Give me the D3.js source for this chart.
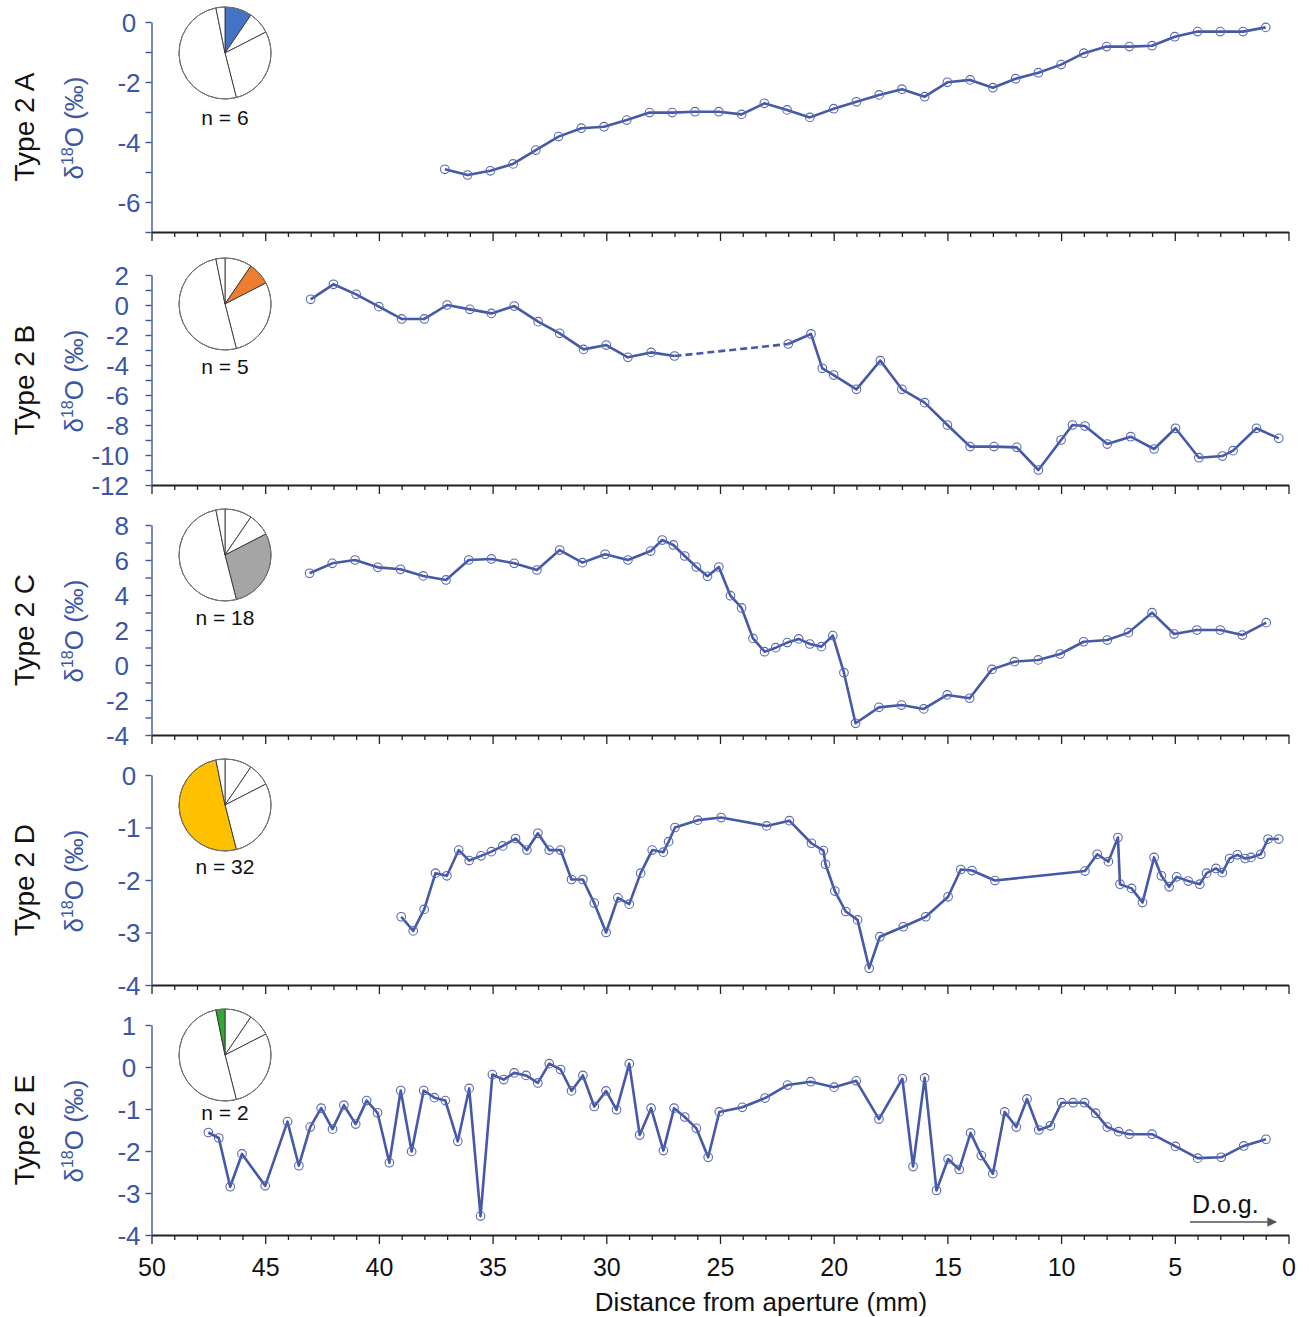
<!DOCTYPE html>
<html><head><meta charset="utf-8">
<script src="https://cdn.jsdelivr.net/npm/d3@7"></script>
<style>
body{margin:0;background:#fff}
svg{display:block}
text{font-family:"Liberation Sans",Arial,Helvetica,sans-serif}
</style>
</head><body>
<svg id="chart" width="1309" height="1317"></svg>
<script>
// ---------------- DATA ----------------
const typeLabels = ["Type 2 A", "Type 2 B", "Type 2 C", "Type 2 D", "Type 2 E"];
const sampleCounts = [6, 5, 18, 32, 2];
const pieColors = ["#4472c4", "#ed7d31", "#a5a5a5", "#ffc000", "#2fa836"];
const xTickLabels = [50, 45, 40, 35, 30, 25, 20, 15, 10, 5, 0];
const yDomains = [[-7, 0], [-12, 2], [-4, 8], [-4, 0], [-4, 1]];
const yLabelStep = [2, 2, 2, 1, 1];
const xTitle = "Distance from aperture (mm)";
const dogLabel = "D.o.g.";

const aX = [37.1, 36.1, 35.1, 34.1, 33.1, 32.1, 31.1, 30.1, 29.1, 28.1, 27.1, 26.1, 25.05, 24.05, 23.05, 22.05, 21.05, 20.0, 19.0, 18.0, 17.0, 16.0, 15.0, 14.0, 13.0, 12.0, 11.0, 10.0, 9.0, 8.0, 7.0, 6.0, 5.0, 4.0, 3.0, 2.0, 1.0];
const aY = [-4.91, -5.1, -4.96, -4.73, -4.27, -3.82, -3.54, -3.49, -3.27, -3.02, -3.02, -2.99, -2.99, -3.08, -2.71, -2.93, -3.18, -2.89, -2.66, -2.43, -2.24, -2.49, -2.01, -1.93, -2.19, -1.89, -1.69, -1.42, -1.04, -0.82, -0.82, -0.79, -0.49, -0.32, -0.32, -0.32, -0.18];

const bX = [43.0, 42.0, 41.0, 40.0, 39.0, 38.0, 37.0, 36.0, 35.05, 34.05, 33.0, 32.05, 31.0, 30.0, 29.05, 28.03, 27.0, 22.0, 21.0, 20.5, 20.0, 19.0, 17.95, 17.0, 16.0, 15.0, 14.0, 12.95, 11.95, 11.0, 10.0, 9.5, 8.95, 7.97, 6.94, 5.91, 4.97, 3.94, 2.91, 2.44, 1.41, 0.43];
const bY = [0.38, 1.38, 0.71, -0.11, -0.93, -0.93, 0.0, -0.29, -0.56, -0.07, -1.11, -1.89, -2.96, -2.67, -3.49, -3.16, -3.4, -2.6, -1.93, -4.22, -4.67, -5.62, -3.71, -5.62, -6.51, -8.0, -9.44, -9.44, -9.49, -11.0, -9.0, -8.0, -8.07, -9.27, -8.78, -9.6, -8.22, -10.18, -10.07, -9.71, -8.22, -8.89];
const bDashedFrom = 16; // dashed link between bX[16] and bX[17]

const cX = [43.05, 42.05, 41.05, 40.05, 39.05, 38.05, 37.05, 36.05, 35.05, 34.05, 33.05, 32.05, 31.05, 30.05, 29.05, 28.05, 27.54, 27.05, 26.55, 26.04, 25.55, 25.05, 24.54, 24.05, 23.55, 23.04, 22.55, 22.04, 21.54, 21.05, 20.54, 20.04, 19.55, 19.04, 18.01, 17.02, 16.04, 15.01, 14.02, 13.04, 12.05, 11.01, 10.04, 9.01, 7.97, 7.04, 6.0, 5.03, 4.03, 3.0, 2.03, 0.98];
const cY = [5.24, 5.81, 6.0, 5.58, 5.47, 5.09, 4.86, 6.0, 6.06, 5.81, 5.43, 6.57, 5.85, 6.33, 6.0, 6.51, 7.14, 6.86, 6.23, 5.6, 5.07, 5.6, 3.96, 3.26, 1.52, 0.76, 0.99, 1.28, 1.49, 1.2, 1.05, 1.68, -0.44, -3.33, -2.42, -2.29, -2.51, -1.71, -1.9, -0.25, 0.19, 0.29, 0.63, 1.33, 1.43, 1.85, 2.99, 1.77, 2.0, 2.0, 1.71, 2.42];

const dX = [39.02, 38.49, 38.01, 37.51, 37.01, 36.49, 36.03, 35.51, 35.05, 34.55, 33.99, 33.49, 33.01, 32.51, 32.01, 31.53, 31.03, 30.53, 30.01, 29.49, 28.99, 28.49, 27.98, 27.49, 27.26, 26.98, 25.98, 24.95, 22.95, 21.95, 20.98, 20.45, 20.36, 19.95, 19.47, 18.95, 18.44, 17.97, 16.94, 15.95, 14.97, 14.41, 13.92, 12.91, 8.95, 8.41, 7.92, 7.5, 7.41, 6.9, 6.42, 5.91, 5.59, 5.25, 4.92, 4.41, 3.9, 3.6, 3.19, 2.91, 2.59, 2.25, 1.91, 1.65, 1.22, 0.9, 0.43];
const dY = [-2.70, -2.97, -2.56, -1.87, -1.92, -1.43, -1.63, -1.54, -1.46, -1.35, -1.21, -1.43, -1.11, -1.43, -1.43, -1.99, -1.99, -2.44, -3.0, -2.34, -2.46, -1.87, -1.43, -1.47, -1.27, -1.0, -0.86, -0.81, -0.97, -0.87, -1.30, -1.44, -1.70, -2.21, -2.60, -2.76, -3.68, -3.08, -2.89, -2.70, -2.32, -1.80, -1.82, -2.01, -1.83, -1.51, -1.65, -1.19, -2.08, -2.16, -2.43, -1.57, -1.92, -2.13, -1.94, -2.02, -2.08, -1.87, -1.78, -1.86, -1.59, -1.52, -1.59, -1.57, -1.51, -1.22, -1.22];

const eX = [47.5, 47.04, 46.54, 46.02, 45.0, 44.02, 43.52, 43.02, 42.54, 42.04, 41.54, 41.02, 40.54, 40.06, 39.54, 39.04, 38.56, 38.03, 37.56, 37.08, 36.53, 36.03, 35.53, 35.01, 34.51, 34.05, 33.53, 33.01, 32.51, 32.01, 31.53, 31.03, 30.53, 30.01, 29.55, 28.99, 28.53, 28.03, 27.49, 27.02, 26.55, 26.04, 25.52, 25.03, 24.02, 23.02, 22.03, 21.01, 19.98, 19.01, 18.01, 16.98, 16.51, 16.0, 15.48, 14.97, 14.48, 13.98, 13.51, 13.0, 12.48, 11.97, 11.5, 10.98, 10.47, 9.98, 9.47, 8.97, 8.48, 7.97, 7.47, 7.0, 6.0, 4.97, 3.99, 2.96, 1.97, 0.99];
const eY = [-1.56, -1.69, -2.85, -2.07, -2.83, -1.30, -2.35, -1.43, -0.98, -1.48, -0.91, -1.36, -0.80, -1.09, -2.28, -0.56, -2.01, -0.56, -0.73, -0.80, -1.77, -0.51, -3.55, -0.18, -0.30, -0.14, -0.20, -0.38, 0.08, -0.06, -0.57, -0.20, -0.94, -0.57, -1.02, 0.08, -1.62, -0.98, -1.99, -0.98, -1.19, -1.46, -2.15, -1.07, -0.96, -0.74, -0.43, -0.35, -0.48, -0.33, -1.24, -0.28, -2.37, -0.26, -2.94, -2.19, -2.44, -1.57, -2.11, -2.54, -1.07, -1.43, -0.76, -1.50, -1.40, -0.85, -0.85, -0.85, -1.10, -1.43, -1.54, -1.6, -1.6, -1.89, -2.17, -2.15, -1.88, -1.72];

const seriesX = [aX, bX, cX, dX, eX];
const seriesY = [aY, bY, cY, dY, eY];

// ---------------- LAYOUT / STYLE ----------------
const W = 1309, H = 1317;
const panelTops = [22, 275, 525, 775, 1025];
const panelH = 210;
const pieOffset = [31, 29, 30, 30, 30];
const nLabelOffset = [103, 99, 100, 99, 95];
const lineColor = "#4658a8";
const axisBlue = "#3a56a6";
const FONT = 25;

const svg = d3.select("#chart");
svg.append("rect").attr("width", W).attr("height", H).attr("fill", "#fff");

const x = d3.scaleLinear().domain([50, 0]).range([151.5, 1288.5]);

const pieGen = d3.pie().sort(null).value(d => d).startAngle(0).endAngle(2 * Math.PI);
const arcGen = d3.arc().innerRadius(0).outerRadius(46);

typeLabels.forEach((label, i) => {
  const top = panelTops[i], bottom = top + panelH;
  const [lo, hi] = yDomains[i];
  const y = d3.scaleLinear().domain([lo, hi]).range([bottom, top]);
  const g = svg.append("g");

  // x axis (every panel: ticks; bottom panel: labels)
  const xa = g.append("g").attr("transform", `translate(0,${bottom})`)
    .call(d3.axisBottom(x).tickValues(d3.range(0, 51)).tickSize(5).tickSizeOuter(0).tickFormat(""));
  xa.select(".domain").attr("stroke", "#222").attr("stroke-width", 2);
  xa.selectAll(".tick line").attr("stroke", "#222").attr("stroke-width", 1.3)
    .attr("y2", d => d % 5 === 0 ? 9 : 5);

  if (i === typeLabels.length - 1) {
    const xl = g.append("g").attr("transform", `translate(0,${bottom})`)
      .call(d3.axisBottom(x).tickValues(xTickLabels).tickSize(0).tickFormat(d => String(d)));
    xl.select(".domain").remove();
    xl.selectAll(".tick text").attr("y", 41).attr("dy", 0)
      .attr("fill", "#111").attr("font-size", FONT).attr("font-family", '"Liberation Sans",Arial,sans-serif');
  }

  // y axis
  const labelCentered = (i === 0 || i === 3 || i === 4);
  const ya = g.append("g").attr("transform", `translate(${x(50)},0)`)
    .call(d3.axisLeft(y).tickValues(d3.range(lo, hi + 1, 1)).tickSize(6).tickSizeOuter(0)
      .tickFormat(d => ((hi - d) % yLabelStep[i] === 0 && !(i === 0 && d === lo)) ? String(d) : ""));
  ya.select(".domain").attr("stroke", axisBlue).attr("stroke-width", 1.4);
  ya.selectAll(".tick line").attr("stroke", axisBlue).attr("stroke-width", 1.4);
  ya.selectAll(".tick text").attr("fill", axisBlue).attr("font-size", FONT + 1)
    .attr("font-family", '"Liberation Sans",Arial,sans-serif')
    .attr("x", -22.5).attr("text-anchor", labelCentered ? "middle" : "end").attr("dy", "0.36em");

  // axis titles
  const cy = top + panelH / 2;
  g.append("text").attr("transform", `translate(34,${cy}) rotate(-90)`)
    .attr("text-anchor", "middle").attr("font-size", 28).attr("fill", "#111").text(label);
  const t = g.append("text").attr("transform", `translate(83,${cy + 1}) rotate(-90)`)
    .attr("text-anchor", "middle").attr("font-size", 26).attr("fill", axisBlue);
  t.append("tspan").text("δ");
  t.append("tspan").attr("font-size", 16).attr("dy", -10).text("18");
  t.append("tspan").attr("dy", 10).text("O (‰)");

  // pie
  const pg = g.append("g").attr("transform", `translate(225,${top + pieOffset[i]})`);
  pg.selectAll("path").data(pieGen(sampleCounts)).join("path")
    .attr("d", arcGen)
    .attr("fill", (d, k) => k === i ? pieColors[k] : "#fff")
    .attr("stroke", "#333").attr("stroke-width", 0.9);
  pg.append("circle").attr("r", 46).attr("fill", "none").attr("stroke", "#777").attr("stroke-width", 1);
  g.append("text").attr("x", 225).attr("y", top + nLabelOffset[i]).attr("text-anchor", "middle")
    .attr("font-size", 21).attr("fill", "#111").text(`n = ${sampleCounts[i]}`);

  // data
  const pts = seriesX[i].map((v, k) => [v, seriesY[i][k]]);
  const line = d3.line().x(d => x(d[0])).y(d => y(d[1]));
  const plot = g.append("g");
  if (i === 1) {
    plot.append("path").attr("d", line(pts.slice(0, bDashedFrom + 1)))
      .attr("fill", "none").attr("stroke", lineColor).attr("stroke-width", 2.6).attr("stroke-linejoin", "round");
    plot.append("path").attr("d", line(pts.slice(bDashedFrom, bDashedFrom + 2)))
      .attr("fill", "none").attr("stroke", lineColor).attr("stroke-width", 2.6).attr("stroke-dasharray", "7,4");
    plot.append("path").attr("d", line(pts.slice(bDashedFrom + 1)))
      .attr("fill", "none").attr("stroke", lineColor).attr("stroke-width", 2.6).attr("stroke-linejoin", "round");
  } else {
    plot.append("path").attr("d", line(pts))
      .attr("fill", "none").attr("stroke", lineColor).attr("stroke-width", 2.6).attr("stroke-linejoin", "round");
  }
  plot.selectAll("circle").data(pts).join("circle")
    .attr("cx", d => x(d[0])).attr("cy", d => y(d[1])).attr("r", 4.3)
    .attr("fill", "none").attr("stroke", "#5868b3").attr("stroke-width", 1.1);
});

// x axis title
svg.append("text").attr("x", (x(50) + x(0)) / 2 + 41).attr("y", 1311).attr("text-anchor", "middle")
  .attr("font-size", FONT + 1).attr("fill", "#111").text(xTitle);

// direction of growth
svg.append("defs").append("marker").attr("id", "arr").attr("viewBox", "0 0 10 10")
  .attr("refX", 9).attr("refY", 5).attr("markerWidth", 6).attr("markerHeight", 6).attr("orient", "auto")
  .append("path").attr("d", "M0,0L10,5L0,10z").attr("fill", "#555");
svg.append("line").attr("x1", 1190).attr("x2", 1276).attr("y1", 1222).attr("y2", 1222)
  .attr("stroke", "#555").attr("stroke-width", 1.6).attr("marker-end", "url(#arr)");
svg.append("text").attr("x", 1192).attr("y", 1213).attr("font-size", 25).attr("fill", "#111").text(dogLabel);
</script>
</body></html>
